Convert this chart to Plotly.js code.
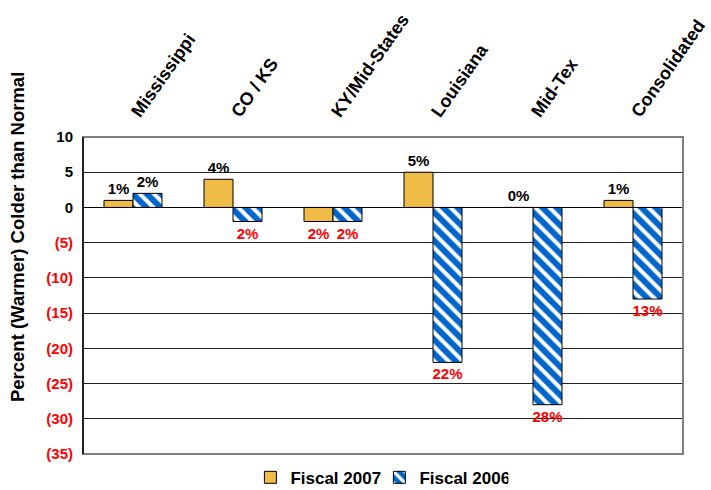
<!DOCTYPE html>
<html>
<head>
<meta charset="utf-8">
<script src="https://cdn.plot.ly/plotly-3.0.1.min.js"></script>
<style>html,body{margin:0;padding:0;background:#fff;}#chart{width:711px;height:490px;}</style>
</head>
<body>
<div id="chart"></div>
<script>
const categories = ['Mississippi', 'CO / KS', 'KY/Mid-States', 'Louisiana', 'Mid-Tex', 'Consolidated'];
const fiscal2007 = [1, 4, -2, 5, 0, 1];
const fiscal2006 = [2, -2, -2, -22, -28, -13];
const yTickValues = [10, 5, 0, -5, -10, -15, -20, -25, -30, -35];
const seriesNames = ['Fiscal 2007', 'Fiscal 2006'];

const FONT = 'Liberation Sans, Arial, sans-serif';
const RED = '#FF0000';
const pctLabel = v => Math.abs(v) + '%';
const pctColor = v => (v < 0 ? RED : '#000000');
const tickLabel = v => v < 0 ? '<span style="color:#FF0000">(' + Math.abs(v) + ')</span>' : String(v);

const barText = {family: FONT, size: 15, weight: 700};

const traces = [
  {
    type: 'bar', name: seriesNames[0], x: categories, y: fiscal2007,
    text: fiscal2007.map(pctLabel), textposition: 'outside', cliponaxis: false,
    textfont: Object.assign({}, barText, {color: fiscal2007.map(pctColor)}),
    constraintext: 'none',
    marker: {color: '#EFBC47', line: {color: '#000000', width: 1}},
    hoverinfo: 'skip'
  },
  {
    type: 'bar', name: seriesNames[1], x: categories, y: fiscal2006,
    text: fiscal2006.map(pctLabel), textposition: 'outside', cliponaxis: false,
    textfont: Object.assign({}, barText, {color: fiscal2006.map(pctColor)}),
    constraintext: 'none',
    marker: {
      color: '#0066CC',
      line: {color: '#000000', width: 1},
      pattern: {shape: '\\', fgcolor: '#FFFFFF', bgcolor: '#0066CC', size: 10, solidity: 0.4}
    },
    hoverinfo: 'skip'
  }
];

const layout = {
  width: 711, height: 490,
  margin: {l: 83, r: 28, t: 137, b: 36, autoexpand: false},
  paper_bgcolor: '#FFFFFF', plot_bgcolor: '#FFFFFF',
  font: {family: FONT, size: 15, color: '#000000', weight: 700},
  barmode: 'group', bargap: 0.42, bargroupgap: 0,
  showlegend: true,
  legend: {
    orientation: 'h', x: 0.494, xanchor: 'center', y: -0.075, yanchor: 'middle',
    font: {family: FONT, size: 17, weight: 700}, traceorder: 'normal',
    itemwidth: 30, entrywidth: 84, bgcolor: 'rgba(0,0,0,0)'
  },
  xaxis: {
    type: 'category', side: 'top', tickangle: -55,
    tickfont: {family: FONT, size: 18, weight: 700},
    showgrid: false, zeroline: false, showline: false, ticks: '',
    ticklabelstandoff: 10, automargin: false,
    fixedrange: true
  },
  xaxis2: {
    overlaying: 'x', anchor: 'free', position: 35 / 45,
    type: 'linear', range: [-0.5, categories.length - 0.5],
    tickmode: 'array', tickvals: categories.map((c, i) => i + 0.5),
    ticks: 'outside', ticklen: 5, tickwidth: 1, tickcolor: '#000000',
    showticklabels: false, showgrid: false, zeroline: false, showline: false
  },
  yaxis: {
    range: [-35, 10], tickmode: 'array', tickvals: yTickValues,
    ticktext: yTickValues.map(tickLabel),
    tickfont: {family: FONT, size: 15, weight: 700},
    showgrid: true, gridcolor: '#222222', gridwidth: 1,
    zeroline: true, zerolinecolor: '#000000', zerolinewidth: 1,
    showline: true, linecolor: '#000000', linewidth: 1,
    ticks: '', ticklabelstandoff: 6, automargin: false, fixedrange: true
  },
  shapes: [
    {type: 'rect', xref: 'paper', yref: 'paper', x0: 0, x1: 1, y0: 0, y1: 1,
     line: {color: '#808080', width: 2}, layer: 'above'},
    {type: 'line', xref: 'paper', yref: 'paper', x0: 0, x1: 0, y0: 0, y1: 1,
     line: {color: '#000000', width: 1.5}, layer: 'above'}
  ],
  annotations: [
    {text: 'Percent (Warmer) Colder than Normal', xref: 'paper', yref: 'paper',
     x: -0.108, y: 0.685, xanchor: 'center', yanchor: 'middle', textangle: -90,
     showarrow: false, font: {family: FONT, size: 18.5, weight: 700}}
  ]
};

Plotly.newPlot('chart', traces, layout, {displayModeBar: false, staticPlot: true});
</script>
</body>
</html>
